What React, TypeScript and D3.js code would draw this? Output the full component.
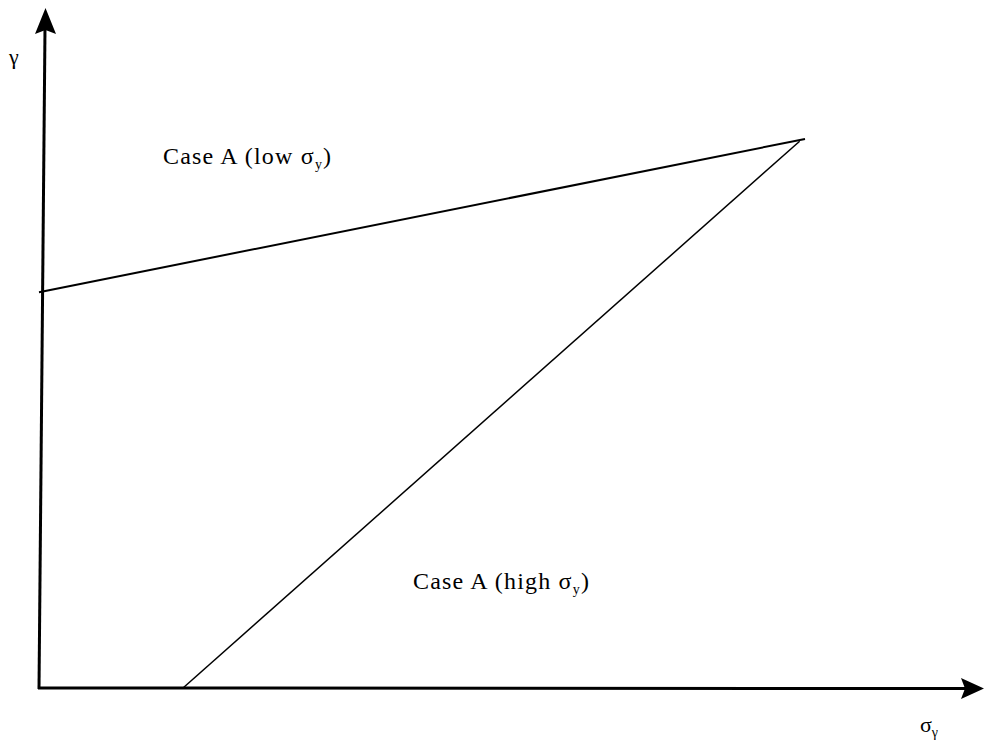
import React from 'react';
import * as d3 from 'd3';

// two regimes, in arbitrary units (sigma on x, gamma on y)
const lowSigma = [
  { s: 0, g: 7.21 },
  { s: 10, g: 10 },
];
const highSigma = [
  { s: 1.88, g: 0 },
  { s: 9.93, g: 9.96 },
];
const labels = ['Case A (low σ', 'Case A (high σ'];

const W = 987;
const H = 740;

export default function App() {
  const x = d3.scaleLinear().domain([0, 10]).range([39, 805]);
  const y = d3.scaleLinear().domain([0, 10]).range([688, 139]);

  const line = d3.line<{ s: number; g: number }>()
    .x(d => x(d.s))
    .y(d => y(d.g));

  const font = '"Liberation Serif", "Times New Roman", serif';
  const x0 = x(0);
  const y0 = y(0);

  return (
    <div style={{ position: 'absolute', left: 0, top: 0 }}>
      <svg width={W} height={H} style={{ display: 'block' }}>
        <rect width={W} height={H} fill="#fff" />

        {/* y axis, slightly leaning */}
        <line x1={x0} y1={y0 + 1} x2={45} y2={28} stroke="#000" strokeWidth={3} />
        <path d="M45.5,8 L35,34 L45.5,30 L56,34 Z" fill="#000" />

        {/* x axis */}
        <line x1={x0 - 1} y1={y0} x2={968} y2={y0 + 0.5} stroke="#000" strokeWidth={3} />
        <path d={`M984,${y0 + 0.5} L961,${y0 - 10} L965,${y0 + 0.5} L961,${y0 + 11} Z`} fill="#000" />

        <path d={line(lowSigma) ?? ''} fill="none" stroke="#000" strokeWidth={2} />
        <path d={line(highSigma) ?? ''} fill="none" stroke="#000" strokeWidth={1.5} />

        <text x={163} y={164} fontFamily={font} fontSize={24} letterSpacing={1.2}>
          {labels[0]}
          <tspan fontSize={14} dy={5}>y</tspan>
          <tspan dy={-5}>)</tspan>
        </text>
        <text x={413} y={589} fontFamily={font} fontSize={24} letterSpacing={1.2}>
          {labels[1]}
          <tspan fontSize={14} dy={5}>y</tspan>
          <tspan dy={-5}>)</tspan>
        </text>

        <text x={9} y={64} fontFamily={font} fontSize={22}>γ</text>
        <text x={920} y={732} fontFamily={font} fontSize={22}>
          σ
          <tspan fontSize={14} dy={5}>γ</tspan>
        </text>
      </svg>
    </div>
  );
}
